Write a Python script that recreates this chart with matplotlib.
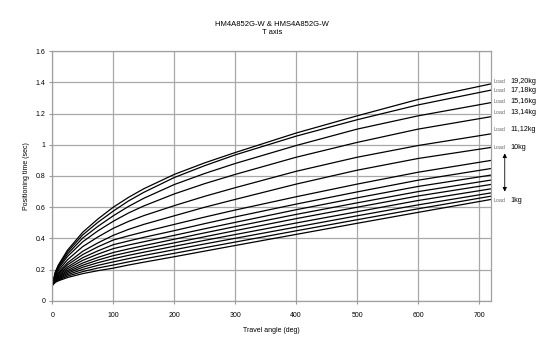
"""Positioning time vs travel angle, HM4A852G-W / HMS4A852G-W, T axis."""

import matplotlib
matplotlib.use("Agg")
import matplotlib.pyplot as plt

plt.rcParams["font.family"] = ["Liberation Sans", "DejaVu Sans"]

TITLE = "HM4A852G-W & HMS4A852G-W\nT axis"
X_LABEL = "Travel angle (deg)"
Y_LABEL = "Positioning time (sec)"

# travel angle sample points (deg)
angles = [0, 5, 10, 25, 50, 75, 100, 125, 150, 200, 250, 300, 400, 500, 600, 720]

# positioning time (sec) per load curve, bottom (1kg) to top (19,20kg)
t_1kg = [0.10, 0.119, 0.129, 0.150, 0.175, 0.194, 0.21, 0.230, 0.248, 0.283, 0.319, 0.355, 0.426, 0.497, 0.567, 0.650]
t_2kg = [0.10, 0.122, 0.134, 0.159, 0.188, 0.211, 0.23, 0.250, 0.269, 0.305, 0.341, 0.377, 0.449, 0.520, 0.590, 0.671]
t_3kg = [0.10, 0.126, 0.139, 0.168, 0.202, 0.228, 0.25, 0.271, 0.291, 0.328, 0.365, 0.401, 0.473, 0.545, 0.615, 0.692]
t_4kg = [0.10, 0.129, 0.144, 0.177, 0.216, 0.245, 0.27, 0.292, 0.312, 0.350, 0.388, 0.425, 0.499, 0.571, 0.643, 0.718]
t_5kg = [0.10, 0.132, 0.149, 0.186, 0.229, 0.262, 0.29, 0.312, 0.333, 0.372, 0.411, 0.450, 0.527, 0.600, 0.672, 0.746]
t_6kg = [0.10, 0.136, 0.155, 0.195, 0.243, 0.279, 0.31, 0.333, 0.354, 0.395, 0.436, 0.476, 0.554, 0.628, 0.700, 0.774]
t_7kg = [0.10, 0.140, 0.161, 0.206, 0.260, 0.300, 0.335, 0.358, 0.379, 0.420, 0.462, 0.503, 0.584, 0.660, 0.733, 0.806]
t_8kg = [0.10, 0.144, 0.168, 0.217, 0.277, 0.321, 0.36, 0.384, 0.407, 0.450, 0.495, 0.538, 0.620, 0.698, 0.773, 0.848]
t_9kg = [0.10, 0.149, 0.175, 0.231, 0.297, 0.347, 0.39, 0.417, 0.442, 0.490, 0.537, 0.582, 0.667, 0.748, 0.824, 0.900]
t_10kg = [0.10, 0.154, 0.183, 0.244, 0.318, 0.372, 0.42, 0.458, 0.490, 0.545, 0.600, 0.650, 0.748, 0.837, 0.912, 0.983]
t_11_12kg = [0.10, 0.162, 0.195, 0.264, 0.348, 0.410, 0.465, 0.509, 0.546, 0.610, 0.670, 0.725, 0.830, 0.920, 0.995, 1.070]
t_13_14kg = [0.10, 0.170, 0.207, 0.285, 0.379, 0.449, 0.51, 0.563, 0.608, 0.685, 0.751, 0.810, 0.920, 1.015, 1.100, 1.180]
t_15_16kg = [0.10, 0.176, 0.216, 0.300, 0.403, 0.478, 0.545, 0.605, 0.657, 0.745, 0.816, 0.880, 0.995, 1.100, 1.185, 1.270]
t_17_18kg = [0.10, 0.181, 0.224, 0.314, 0.423, 0.504, 0.575, 0.640, 0.695, 0.790, 0.866, 0.935, 1.055, 1.160, 1.255, 1.350]
t_19_20kg = [0.10, 0.185, 0.230, 0.325, 0.440, 0.525, 0.60, 0.663, 0.718, 0.810, 0.884, 0.950, 1.075, 1.185, 1.290, 1.390]

curves = [t_1kg, t_2kg, t_3kg, t_4kg, t_5kg, t_6kg, t_7kg, t_8kg, t_9kg, t_10kg,
          t_11_12kg, t_13_14kg, t_15_16kg, t_17_18kg, t_19_20kg]

# right-hand labels and their heights (sec)
load_names = ["19,20kg", "17,18kg", "15,16kg", "13,14kg", "11,12kg", "10kg", "1kg"]
load_label_y = [1.405, 1.35, 1.28, 1.205, 1.10, 0.985, 0.64]

x_ticks = [0, 100, 200, 300, 400, 500, 600, 700]
y_ticks = [0, 0.2, 0.4, 0.6, 0.8, 1.0, 1.2, 1.4, 1.6]
y_tick_labels = ["0", "0.2", "0.4", "0.6", "0.8", "1", "1.2", "1.4", "1.6"]

fig = plt.figure(figsize=(5.5, 3.52), dpi=100)
ax = fig.add_axes([0.095, 0.145, 0.798, 0.71])

for t in curves:
    ax.plot(angles, t, color="black", linewidth=0.9, solid_joinstyle="round")

ax.set_xlim(0, 720)
ax.set_ylim(0, 1.6)
ax.set_xticks(x_ticks)
ax.set_yticks(y_ticks)
ax.set_yticklabels(y_tick_labels)
ax.tick_params(axis="both", labelsize=5, length=2, color="#999999", pad=3)
ax.tick_params(axis="x", pad=6)

ax.grid(True, color="#a8a8a8", linewidth=0.9)
ax.set_axisbelow(True)
for spine in ax.spines.values():
    spine.set_color("#a0a0a0")
    spine.set_linewidth(0.9)

ax.set_xlabel(X_LABEL, fontsize=5, labelpad=6)
ax.set_ylabel(Y_LABEL, fontsize=5, labelpad=4)
ax.set_title(TITLE, fontsize=5.5, pad=12, linespacing=1.3)

trans = ax.get_yaxis_transform()
for name, y in zip(load_names, load_label_y):
    ax.text(1.006, y, "Load", transform=trans, fontsize=3.8, color="#666666",
            va="center", ha="left", clip_on=False)
    ax.text(1.043, y, name, transform=trans, fontsize=5.2, color="black",
            va="center", ha="left", clip_on=False)

ax.annotate("", xy=(1.031, 0.70), xytext=(1.031, 0.945),
            xycoords=trans, textcoords=trans,
            arrowprops=dict(arrowstyle="<|-|>", color="black", lw=0.6,
                            mutation_scale=6, shrinkA=0, shrinkB=0))

fig.savefig("out.png", dpi=100)
plt.close(fig)
